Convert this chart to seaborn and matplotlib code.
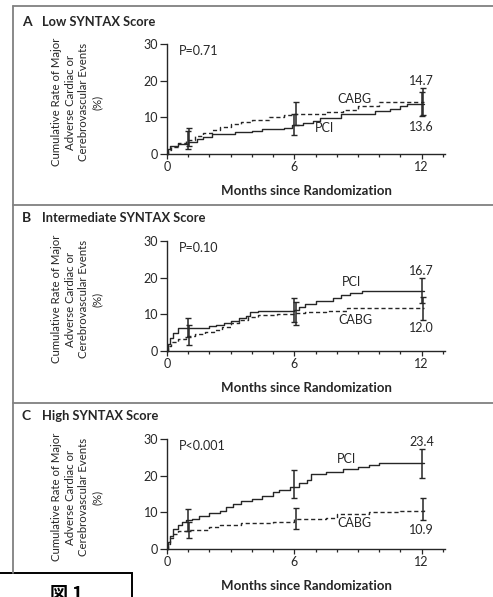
import numpy as np
import pandas as pd
import matplotlib
matplotlib.use("Agg")
import matplotlib.pyplot as plt
from matplotlib.lines import Line2D
from matplotlib.patches import Rectangle
from matplotlib.ticker import FixedLocator, MultipleLocator
import seaborn as sns

# --- datos (meses, % acumulado) ---
A_PCI_T = [0, 0.05, 0.15, 0.5, 1.0, 1.4, 1.7, 2.1, 3.2, 4.0, 4.5, 5.5, 5.9, 6.4, 6.9, 7.2, 8.2, 9.4, 9.8, 10.5, 11.0, 11.3, 12.1]
A_PCI_Y = [0, 1.5, 2.2, 2.8, 3.4, 4.0, 4.7, 5.4, 6.0, 6.3, 6.7, 7.0, 8.0, 8.5, 9.0, 9.8, 10.8, 11.0, 11.8, 12.3, 13.0, 13.6, 13.6]
A_CABG_T = [0, 0.05, 0.2, 0.5, 0.9, 1.3, 1.7, 2.1, 2.5, 3.0, 3.5, 4.0, 4.8, 5.5, 6.0, 7.5, 8.3, 9.0, 10.0, 12.1]
A_CABG_Y = [0, 1.2, 2.0, 3.0, 3.8, 4.8, 5.6, 6.5, 7.3, 8.1, 8.8, 9.3, 10.0, 10.6, 11.0, 11.5, 12.1, 13.2, 14.2, 14.2]

B_PCI_T = [0, 0.05, 0.15, 0.3, 0.5, 1.2, 2.0, 2.3, 2.7, 3.0, 3.4, 3.7, 3.9, 4.3, 6.0, 6.2, 6.5, 7.0, 7.8, 8.2, 8.6, 9.2, 12.1]
B_PCI_Y = [0, 2.0, 3.5, 4.8, 6.2, 6.4, 6.7, 7.0, 7.6, 8.2, 9.0, 9.6, 10.6, 11.0, 11.1, 12.0, 12.8, 13.6, 14.4, 15.3, 15.9, 16.5, 16.5]
B_CABG_T = [0, 0.05, 0.2, 0.5, 0.9, 1.3, 1.8, 2.2, 2.6, 3.0, 3.4, 3.8, 4.3, 5.2, 6.0, 6.5, 7.5, 8.5, 12.1]
B_CABG_Y = [0, 1.5, 2.5, 3.3, 4.0, 4.6, 5.3, 5.8, 6.6, 7.6, 8.5, 9.2, 9.7, 10.0, 10.3, 10.7, 11.0, 11.6, 11.6]

C_PCI_T = [0, 0.05, 0.15, 0.3, 0.5, 0.7, 0.9, 1.2, 1.5, 2.0, 2.5, 2.8, 3.1, 3.5, 4.0, 4.5, 5.0, 5.3, 5.8, 6.2, 6.6, 6.8, 7.5, 8.3, 9.0, 9.5, 10.0, 12.1]
C_PCI_Y = [0, 2.0, 3.5, 5.5, 6.5, 7.5, 8.0, 8.3, 9.0, 9.8, 10.5, 11.5, 12.2, 13.0, 13.6, 14.5, 15.5, 16.2, 17.0, 18.0, 18.8, 20.5, 21.0, 21.8, 22.4, 23.0, 23.4, 23.4]
C_CABG_T = [0, 0.05, 0.15, 0.3, 0.5, 1.0, 2.0, 2.5, 3.5, 5.0, 6.0, 7.5, 8.0, 9.5, 11.0, 12.1]
C_CABG_Y = [0, 1.5, 3.0, 4.2, 5.0, 5.3, 6.0, 6.5, 7.0, 7.5, 8.3, 8.5, 9.5, 10.0, 10.4, 10.6]

# barras de error: posición, centro, mínimo, máximo
ERR_X = [1.0, 6.0, 12.0]
A_PCI_ERR = ([3.5, 8.0, 13.6], [1.5, 5.3, 10.3], [6.2, 11.0, 17.0])
A_CABG_ERR = ([4.5, 11.0, 14.2], [2.2, 7.8, 10.6], [7.0, 14.3, 17.9])
B_PCI_ERR = ([6.3, 11.1, 16.5], [3.8, 8.0, 13.0], [9.0, 14.5, 20.0])
B_CABG_ERR = ([4.3, 10.3, 11.6], [1.7, 7.2, 8.4], [7.0, 13.5, 14.8])
C_PCI_ERR = ([8.0, 17.5, 23.4], [5.0, 14.0, 19.3], [10.8, 21.5, 27.4])
C_CABG_ERR = ([5.3, 8.3, 10.6], [3.0, 5.5, 7.9], [7.5, 11.2, 13.8])

LETTERS = ['A', 'B', 'C']
TITLES = ['Low SYNTAX Score', 'Intermediate SYNTAX Score', 'High SYNTAX Score']
P_TEXT = ['P=0.71', 'P=0.10', 'P<0.001']
PCI_END = ['13.6', '16.7', '23.4']
CABG_END = ['14.7', '12.0', '10.9']

# posiciones de las etiquetas (meses, %)
PCI_END_Y = [7.4, 21.9, 29.2]
CABG_END_Y = [19.9, 6.3, 5.2]
PCI_LBL = [(7.4, 7.1), (8.7, 18.7), (8.45, 24.5)]
CABG_LBL = [(8.85, 15.0), (8.9, 8.5), (8.85, 7.0)]

INK = '#262626'
FRAME = '#808080'
W_PX, H_PX = 493, 597
FS = 9

sns.set_theme(style="ticks")
plt.rcParams['font.family'] = ['Lato', 'DejaVu Sans']

fig = plt.figure(figsize=(W_PX / 100, H_PX / 100), dpi=100)
fig.patch.set_facecolor('white')

curves = [
    (A_PCI_T, A_PCI_Y, A_CABG_T, A_CABG_Y, A_PCI_ERR, A_CABG_ERR),
    (B_PCI_T, B_PCI_Y, B_CABG_T, B_CABG_Y, B_PCI_ERR, B_CABG_ERR),
    (C_PCI_T, C_PCI_Y, C_CABG_T, C_CABG_Y, C_PCI_ERR, C_CABG_ERR),
]

axis_zero_px = [154, 351, 549]   # fila del eje x en cada panel
title_px = [22, 218, 416]

for i, (pt, py, ct, cy, perr, cerr) in enumerate(curves):
    y0 = axis_zero_px[i]
    ax = fig.add_axes([167 / W_PX, (H_PX - y0) / H_PX, 278 / W_PX, 110 / H_PX])
    ax.set_facecolor('white')

    df = pd.concat([
        pd.DataFrame({'month': pt, 'rate': py, 'arm': 'PCI'}),
        pd.DataFrame({'month': ct, 'rate': cy, 'arm': 'CABG'}),
    ], ignore_index=True)
    sns.lineplot(data=df, x='month', y='rate', style='arm', style_order=['PCI', 'CABG'],
                 dashes={'PCI': '', 'CABG': (3, 2)}, color=INK, linewidth=1.0,
                 drawstyle='steps-post', estimator=None, legend=False, ax=ax, clip_on=False)

    for err, dx in ((perr, 0.0), (cerr, 0.06)):
        c, lo, hi = (np.array(v) for v in err)
        ax.errorbar(np.array(ERR_X) + dx, c, yerr=[c - lo, hi - c], fmt='none',
                    ecolor=INK, elinewidth=1.1, capsize=2.5, capthick=1.0, clip_on=False)

    ax.set_xlim(0, 13.1)
    ax.set_ylim(0, 30)
    sns.despine(ax=ax)
    for s in ('left', 'bottom'):
        ax.spines[s].set_color(INK)
        ax.spines[s].set_linewidth(1.0)
    ax.xaxis.set_major_locator(FixedLocator([0, 6, 12]))
    ax.xaxis.set_minor_locator(MultipleLocator(1))
    ax.yaxis.set_major_locator(FixedLocator([0, 10, 20, 30]))
    ax.tick_params(axis='both', which='major', colors=INK, labelsize=FS, width=0.9, pad=1.5)
    ax.tick_params(axis='y', length=5)
    ax.tick_params(axis='x', which='major', length=3.5)
    ax.tick_params(axis='x', which='minor', length=2.5, width=0.9, color=INK)

    ax.set_xlabel('Months since Randomization', fontsize=9.5, fontweight='bold', color=INK)
    ax.xaxis.set_label_coords(0.5, -0.28)
    ax.set_ylabel('Cumulative Rate of Major\nAdverse Cardiac or\nCerebrovascular Events\n(%)',
                  fontsize=8.2, color=INK, linespacing=1.3)
    ax.yaxis.set_label_coords(-0.23, 0.47)

    ax.text(0.56, 28.0, P_TEXT[i], fontsize=FS, color=INK, ha='left', va='center')
    ax.text(12.0, PCI_END_Y[i], PCI_END[i], fontsize=FS, color=INK, ha='center', va='center')
    ax.text(12.0, CABG_END_Y[i], CABG_END[i], fontsize=FS, color=INK, ha='center', va='center')
    ax.text(*PCI_LBL[i], 'PCI', fontsize=FS, color=INK, ha='center', va='center')
    ax.text(*CABG_LBL[i], 'CABG', fontsize=FS, color=INK, ha='center', va='center')

    ty = 1 - title_px[i] / H_PX
    fig.text(22 / W_PX, ty, LETTERS[i], fontsize=10, fontweight='bold', color=INK, va='center')
    fig.text(42 / W_PX, ty, TITLES[i], fontsize=9.3, fontweight='bold', color=INK, va='center')

# marco y separadores
for yp in (6, 205, 403):
    fig.add_artist(Line2D([13 / W_PX, 1], [1 - yp / H_PX] * 2, color=FRAME, lw=1.3))
fig.add_artist(Line2D([13 / W_PX] * 2, [1 - 6 / H_PX, 1 - 573 / H_PX], color=FRAME, lw=1.3))

# recuadro "図 1"
fig.add_artist(Rectangle((-0.01, -0.01), 132 / W_PX + 0.01, (H_PX - 573) / H_PX + 0.01,
                         transform=fig.transFigure, facecolor='white', edgecolor='black', lw=1.4))
fig.text(66 / W_PX, 1 - 585 / H_PX, '図 1', fontsize=13, fontweight='bold', color='black',
         ha='center', va='top', family=['Noto Sans CJK JP', 'DejaVu Sans'])

fig.savefig('out.png', dpi=100, facecolor='white')
